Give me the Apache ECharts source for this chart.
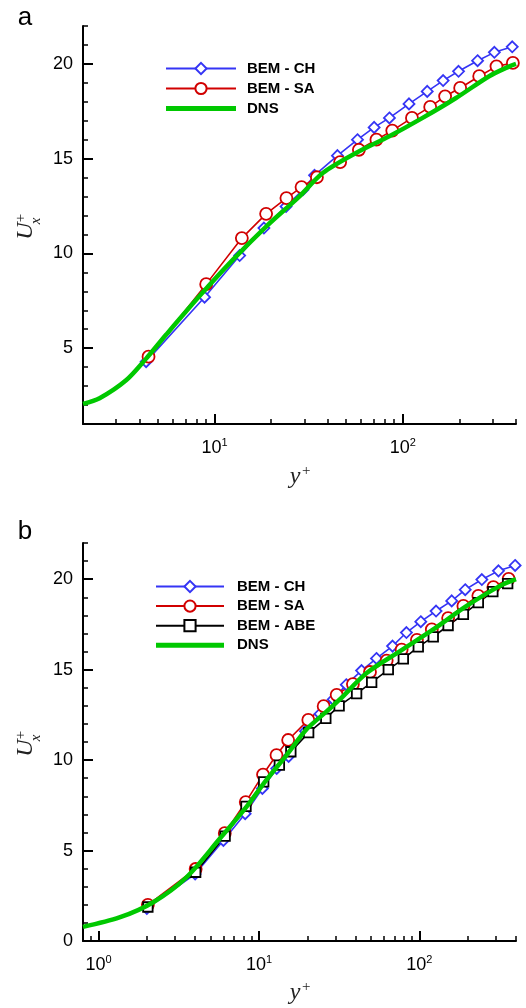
<!DOCTYPE html>
<html><head><meta charset="utf-8">
<script src="https://cdn.jsdelivr.net/npm/echarts@6/dist/echarts.min.js"></script>
<style>html,body{margin:0;padding:0;background:#fff}#c{width:526px;height:1008px}</style>
</head><body><div id="c"></div>
<script>
// ---- Panel a data ----
const aChX  = [4.33, 8.85, 13.6, 18.3, 24.0, 29.5, 34.0, 45.0, 57.5, 70.5, 85, 108, 135, 164, 198, 250, 307, 382];
const aChY  = [4.29, 7.69, 9.89, 11.34, 12.48, 13.36, 14.12, 15.16, 16.0, 16.65, 17.15, 17.89, 18.55, 19.12, 19.61, 20.17, 20.61, 20.9];
const aSaX  = [4.46, 9.03, 13.97, 18.8, 24.1, 29.0, 35.0, 46.5, 58.5, 72.5, 88, 112, 140, 168, 202, 255, 315, 385];
const aSaY  = [4.55, 8.38, 10.81, 12.09, 12.92, 13.5, 14.02, 14.82, 15.47, 16.0, 16.48, 17.15, 17.73, 18.29, 18.73, 19.35, 19.87, 20.05];
const aDnsX = [2, 2.45, 3.4, 4.33, 5.54, 8.32, 12.5, 18.8, 28.2, 37.6, 56.5, 84.9, 127.6, 192, 288, 369, 400];
const aDnsY = [2.06, 2.36, 3.32, 4.45, 5.72, 7.75, 9.66, 11.42, 13.0, 14.24, 15.3, 16.18, 17.15, 18.2, 19.35, 19.87, 20.0];
// ---- Panel b data ----
const bChX  = [2.0, 4.0, 6.0, 8.2, 10.5, 12.9, 15.3, 19.5, 24, 29, 35, 43.6, 54, 68, 83, 102, 127, 159, 193, 245, 311, 395];
const bChY  = [1.8, 3.7, 5.56, 7.04, 8.43, 9.54, 10.2, 11.6, 12.55, 13.35, 14.17, 14.95, 15.62, 16.3, 17.05, 17.65, 18.24, 18.8, 19.42, 19.98, 20.46, 20.76];
const bSaX  = [2.03, 4.03, 6.12, 8.27, 10.6, 12.86, 15.2, 20.3, 25.3, 30.5, 38.5, 49.2, 62.5, 77.5, 96.5, 119.5, 151, 188, 233, 289, 360];
const bSaY  = [2.0, 3.98, 5.96, 7.68, 9.2, 10.28, 11.11, 12.22, 12.98, 13.61, 14.2, 14.87, 15.5, 16.11, 16.65, 17.22, 17.85, 18.52, 19.08, 19.56, 20.02];
const bAbeX = [2.03, 4.03, 6.15, 8.3, 10.7, 13.4, 15.8, 20.4, 26.1, 31.6, 40.6, 50.4, 64, 79.4, 98.4, 122, 151, 188, 233, 287, 355];
const bAbeY = [1.88, 3.8, 5.8, 7.44, 8.8, 9.72, 10.46, 11.52, 12.31, 13.0, 13.67, 14.3, 15.0, 15.59, 16.26, 16.81, 17.44, 18.06, 18.7, 19.31, 19.75];
const bDnsX = [0.8, 1.35, 2.18, 3.53, 5.69, 8.35, 11.1, 14.86, 19.8, 26.4, 31.9, 46.9, 75.7, 122, 197, 318, 400];
const bDnsY = [0.78, 1.3, 2.13, 3.52, 5.65, 7.41, 8.89, 10.28, 11.7, 12.69, 13.35, 14.81, 16.02, 17.22, 18.52, 19.63, 20.0];
// ---- ticks ----
const aXMajor = [10, 100];
const bXMajor = [1, 10, 100];
const xMinor = [0.9, 2, 3, 4, 5, 6, 7, 8, 9, 20, 30, 40, 50, 60, 70, 80, 90, 200, 300, 400];
const aYMajor = [5, 10, 15, 20];
const bYMajor = [0, 5, 10, 15, 20];
const yMinor = [1,2,3,4,6,7,8,9,11,12,13,14,16,17,18,19,21,22];
const names = ['BEM - CH', 'BEM - SA', 'BEM - ABE', 'DNS'];

const zip = (xs, ys) => xs.map((x, i) => [x, ys[i]]);
const BLUE = '#3535f5', RED = '#d10000', BLACK = '#000', GREEN = '#00c800';

function xMajorAxis(grid, min, majors) {
  return {
    type: 'log', gridIndex: grid, min: min, max: 400, position: 'bottom',
    axisLine: { show: true, lineStyle: { color: '#000', width: 2 } },
    axisTick: { show: true, inside: true, length: 10, customValues: majors, lineStyle: { color: '#000', width: 2 } },
    axisLabel: {
      customValues: majors, margin: 13,
      formatter: v => '{m|10}{s|' + Math.round(Math.log10(v)) + '}',
      rich: {
        m: { fontSize: 18, fontFamily: 'Liberation Sans', color: '#000' },
        s: { fontSize: 11, fontFamily: 'Liberation Sans', color: '#000', padding: [0, 0, 12, 0] }
      }
    },
    splitLine: { show: false }
  };
}
function xMinorAxis(grid, min) {
  return {
    type: 'log', gridIndex: grid, min: min, max: 400, position: 'bottom',
    axisLine: { show: false },
    axisTick: { show: true, inside: true, length: 5, customValues: xMinor.filter(v => v >= min), lineStyle: { color: '#000', width: 1.5 } },
    axisLabel: { show: false }, splitLine: { show: false }
  };
}
function yMajorAxis(grid, min, majors) {
  return {
    type: 'value', gridIndex: grid, min: min, max: 22, position: 'left',
    axisLine: { show: true, lineStyle: { color: '#000', width: 2 } },
    axisTick: { show: true, inside: true, length: 10, customValues: majors, lineStyle: { color: '#000', width: 2 } },
    axisLabel: { customValues: majors, margin: 10, fontSize: 18, fontFamily: 'Liberation Sans', color: '#000' },
    splitLine: { show: false }
  };
}
function yMinorAxis(grid, min) {
  return {
    type: 'value', gridIndex: grid, min: min, max: 22, position: 'left',
    axisLine: { show: false },
    axisTick: { show: true, inside: true, length: 5, customValues: yMinor.filter(v => v > min), lineStyle: { color: '#000', width: 1.5 } },
    axisLabel: { show: false }, splitLine: { show: false }
  };
}
function lineSeries(name, data, xi, yi, color, symbol, size) {
  return {
    type: 'line', name: name, data: data, xAxisIndex: xi, yAxisIndex: yi,
    symbol: symbol, symbolSize: size, showSymbol: true,
    lineStyle: { color: color, width: 1.6 },
    itemStyle: { color: '#fff', borderColor: color, borderWidth: 1.8 },
    emphasis: { disabled: true }, animation: false
  };
}
function dnsSeries(data, xi, yi) {
  return {
    type: 'line', name: 'DNS', data: data, xAxisIndex: xi, yAxisIndex: yi,
    symbol: 'none', smooth: 0.3,
    lineStyle: { color: GREEN, width: 4.5 }, itemStyle: { color: GREEN },
    emphasis: { disabled: true }, animation: false, z: 5
  };
}
const legendText = { fontSize: 15, fontWeight: 'bold', fontFamily: 'Liberation Sans', color: '#000' };

function yTitle(cx, cy) {
  return {
    type: 'group', x: cx, y: cy, rotation: Math.PI / 2,
    children: [
      { type: 'text', x: 0, y: 0, style: { text: 'U', font: 'italic 24px "Liberation Serif"', fill: '#222', align: 'center', verticalAlign: 'middle' } },
      { type: 'text', x: 13, y: -5, style: { text: '+', font: '15px "Liberation Serif"', fill: '#222', align: 'center', verticalAlign: 'middle' } },
      { type: 'text', x: 10, y: 10, style: { text: 'x', font: 'italic 15px "Liberation Serif"', fill: '#222', align: 'center', verticalAlign: 'middle' } }
    ]
  };
}
function xTitle(cx, cy) {
  return {
    type: 'group', x: cx, y: cy,
    children: [
      { type: 'text', x: 0, y: 0, style: { text: 'y', font: 'italic 24px "Liberation Serif"', fill: '#222', align: 'center', verticalAlign: 'middle' } },
      { type: 'text', x: 7, y: -6, style: { text: '+', font: '15px "Liberation Serif"', fill: '#222', align: 'left', verticalAlign: 'middle' } }
    ]
  };
}

const option = {
  backgroundColor: '#fff',
  animation: false,
  grid: [
    { left: 83, top: 26, width: 433, height: 398, outerBoundsMode: 'none', containLabel: false },
    { left: 83, top: 543, width: 433, height: 398, outerBoundsMode: 'none', containLabel: false }
  ],
  xAxis: [xMajorAxis(0, 2, aXMajor), xMinorAxis(0, 2), xMajorAxis(1, 0.8, bXMajor), xMinorAxis(1, 0.8)],
  yAxis: [yMajorAxis(0, 1, aYMajor), yMinorAxis(0, 1), yMajorAxis(1, 0, bYMajor), yMinorAxis(1, 0)],
  legend: [
    { data: [names[0], names[1], { name: names[3], icon: 'path://M0,0H70V5H0Z' }], left: 165, top: 61, orient: 'vertical', padding: 0,
      itemWidth: 70, itemHeight: 14, itemGap: 5, textStyle: Object.assign({ padding: [0, 0, 0, 6] }, legendText),
      selectedMode: false },
    { data: [names[0], names[1], names[2], { name: names[3], icon: 'path://M0,0H68V5H0Z' }], left: 155, top: 579, orient: 'vertical', padding: 0,
      itemWidth: 68, itemHeight: 14, itemGap: 4.6, textStyle: Object.assign({ padding: [0, 0, 0, 8] }, legendText),
      selectedMode: false }
  ],
  series: [
    lineSeries(names[0], zip(aChX, aChY), 0, 0, BLUE, 'diamond', 11),
    lineSeries(names[1], zip(aSaX, aSaY), 0, 0, RED, 'circle', 12),
    dnsSeries(zip(aDnsX, aDnsY), 0, 0),
    lineSeries(names[0], zip(bChX, bChY), 2, 2, BLUE, 'diamond', 11),
    lineSeries(names[1], zip(bSaX, bSaY), 2, 2, RED, 'circle', 12),
    lineSeries(names[2], zip(bAbeX, bAbeY), 2, 2, BLACK, 'rect', 9.5),
    dnsSeries(zip(bDnsX, bDnsY), 2, 2)
  ],
  graphic: [
    { type: 'text', x: 25, y: 18, style: { text: 'a', font: '26px "Liberation Sans"', fill: '#000', align: 'center', verticalAlign: 'middle' } },
    { type: 'text', x: 25, y: 532, style: { text: 'b', font: '26px "Liberation Sans"', fill: '#000', align: 'center', verticalAlign: 'middle' } },
    yTitle(26, 231), yTitle(26, 748),
    xTitle(295, 477), xTitle(295, 993)
  ]
};
const chart = echarts.init(document.getElementById('c'), null, { renderer: 'canvas' });
chart.setOption(option);
</script></body></html>
